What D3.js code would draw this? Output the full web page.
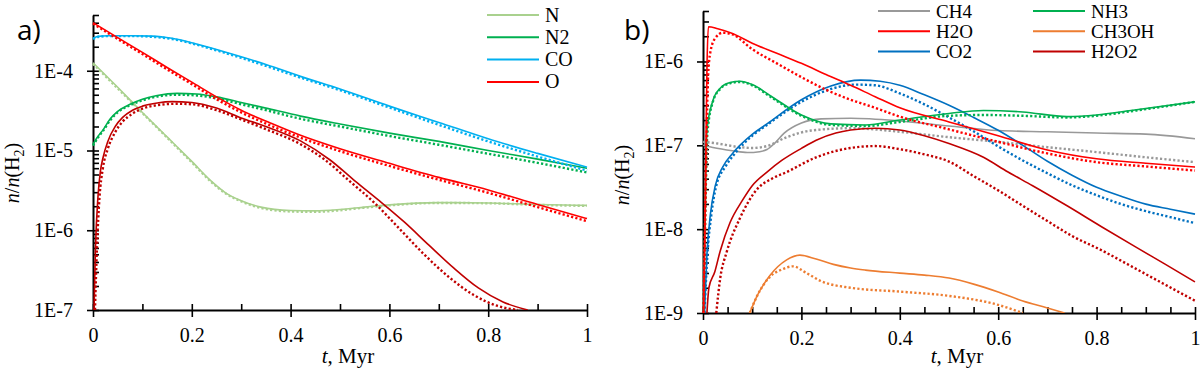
<!DOCTYPE html>
<html>
<head>
<meta charset="utf-8">
<script src="https://cdn.jsdelivr.net/npm/d3@7"></script>
<style>
body { margin: 0; background: #fff; }
svg text { font-family: "Liberation Serif", "Times New Roman", serif; fill: #000; }
</style>
</head>
<body>
<svg id="chart" width="1200" height="370"></svg>
<script>
// ---- data: [t (Myr), n/n(H2)] ----
// panel a
var aN = [[0,1.26e-4],[0.05,6.2e-5],[0.1,3.0e-5],[0.15,1.48e-5],[0.2,7.3e-6],[0.24,4.1e-6],[0.27,2.9e-6],[0.3,2.35e-6],[0.34,1.95e-6],[0.4,1.77e-6],[0.45,1.75e-6],[0.5,1.82e-6],[0.55,1.95e-6],[0.6,2.08e-6],[0.7,2.22e-6],[0.8,2.2e-6],[0.9,2.1e-6],[1,2.05e-6]];
var aN_dot = [[0,1.22e-4],[0.05,6.0e-5],[0.1,2.95e-5],[0.15,1.45e-5],[0.2,7.1e-6],[0.24,4.0e-6],[0.27,2.85e-6],[0.3,2.3e-6],[0.34,1.9e-6],[0.4,1.72e-6],[0.45,1.7e-6],[0.5,1.78e-6],[0.55,1.92e-6],[0.6,2.05e-6],[0.7,2.2e-6],[0.8,2.18e-6],[0.9,2.08e-6],[1,2.02e-6]];
var aN2 = [[0,1.2e-5],[0.01,1.5e-5],[0.02,1.8e-5],[0.035,2.5e-5],[0.05,3.1e-5],[0.075,3.8e-5],[0.1,4.4e-5],[0.13,4.9e-5],[0.17,5.2e-5],[0.21,5.1e-5],[0.25,4.7e-5],[0.3,4.0e-5],[0.35,3.4e-5],[0.42,2.7e-5],[0.5,2.15e-5],[0.6,1.65e-5],[0.7,1.3e-5],[0.8,1.0e-5],[0.9,7.8e-6],[1,6.0e-6]];
var aN2_dot = [[0,1.15e-5],[0.01,1.45e-5],[0.02,1.75e-5],[0.035,2.4e-5],[0.05,3.0e-5],[0.075,3.7e-5],[0.1,4.25e-5],[0.13,4.75e-5],[0.17,5.0e-5],[0.21,4.9e-5],[0.25,4.5e-5],[0.3,3.8e-5],[0.35,3.2e-5],[0.42,2.5e-5],[0.5,2.0e-5],[0.6,1.52e-5],[0.7,1.18e-5],[0.8,9.1e-6],[0.9,7.0e-6],[1,5.3e-6]];
var aCO = [[0,2.55e-4],[0.01,2.7e-4],[0.03,2.75e-4],[0.08,2.75e-4],[0.12,2.72e-4],[0.16,2.55e-4],[0.2,2.25e-4],[0.25,1.85e-4],[0.3,1.5e-4],[0.35,1.2e-4],[0.42,8.5e-5],[0.5,5.9e-5],[0.6,3.6e-5],[0.7,2.25e-5],[0.8,1.4e-5],[0.9,9.2e-6],[1,6.2e-6]];
var aCO_dot = [[0,2.5e-4],[0.01,2.65e-4],[0.03,2.72e-4],[0.08,2.72e-4],[0.12,2.66e-4],[0.16,2.5e-4],[0.2,2.2e-4],[0.25,1.8e-4],[0.3,1.45e-4],[0.35,1.15e-4],[0.42,8.2e-5],[0.5,5.7e-5],[0.6,3.45e-5],[0.7,2.1e-5],[0.8,1.3e-5],[0.9,8.4e-6],[1,5.6e-6]];
var aO = [[0,4.0e-4],[0.05,2.6e-4],[0.1,1.7e-4],[0.15,1.1e-4],[0.2,7.2e-5],[0.25,4.7e-5],[0.3,3.2e-5],[0.36,2.2e-5],[0.42,1.55e-5],[0.5,1.05e-5],[0.6,6.9e-6],[0.7,4.6e-6],[0.8,3.2e-6],[0.9,2.1e-6],[1,1.4e-6]];
var aO_dot = [[0,3.9e-4],[0.05,2.5e-4],[0.1,1.62e-4],[0.15,1.04e-4],[0.2,6.8e-5],[0.25,4.4e-5],[0.3,3.0e-5],[0.36,2.05e-5],[0.42,1.45e-5],[0.5,9.8e-6],[0.6,6.4e-6],[0.7,4.3e-6],[0.8,2.95e-6],[0.9,1.95e-6],[1,1.3e-6]];
// dark red curve, not in the legend
var aO2 = [[0.002,1e-7],[0.005,6e-7],[0.01,2.6e-6],[0.015,5.5e-6],[0.02,8e-6],[0.03,1.3e-5],[0.045,2.0e-5],[0.06,2.6e-5],[0.08,3.2e-5],[0.1,3.6e-5],[0.13,3.95e-5],[0.16,4.1e-5],[0.2,4.0e-5],[0.25,3.4e-5],[0.3,2.56e-5],[0.35,2.0e-5],[0.42,1.32e-5],[0.48,7.6e-6],[0.53,4.16e-6],[0.58,2.33e-6],[0.63,1.27e-6],[0.68,6.5e-7],[0.73,3.37e-7],[0.78,1.89e-7],[0.83,1.26e-7],[0.88,1e-7]];
var aO2_dot = [[0.004,1e-7],[0.008,6e-7],[0.013,2.5e-6],[0.02,6e-6],[0.03,1.05e-5],[0.045,1.7e-5],[0.06,2.3e-5],[0.08,2.9e-5],[0.1,3.35e-5],[0.13,3.7e-5],[0.17,3.85e-5],[0.2,3.8e-5],[0.25,3.2e-5],[0.3,2.45e-5],[0.35,1.85e-5],[0.42,1.2e-5],[0.47,7.6e-6],[0.52,4.1e-6],[0.57,2.2e-6],[0.62,1.05e-6],[0.67,5.0e-7],[0.72,2.6e-7],[0.77,1.55e-7],[0.82,1.12e-7],[0.86,1e-7]];

// panel b
var bCH4 = [[0,1.0e-7],[0.02,9.4e-8],[0.06,8.6e-8],[0.09,8.2e-8],[0.115,8.4e-8],[0.13,8.9e-8],[0.145,1.05e-7],[0.165,1.4e-7],[0.2,1.85e-7],[0.24,2.07e-7],[0.3,2.1e-7],[0.4,1.95e-7],[0.5,1.7e-7],[0.6,1.5e-7],[0.7,1.45e-7],[0.8,1.4e-7],[0.9,1.36e-7],[1,1.2e-7]];
var bCH4_dot = [[0,1.1e-7],[0.03,1.05e-7],[0.07,9.6e-8],[0.1,9.3e-8],[0.13,9.8e-8],[0.17,1.25e-7],[0.22,1.5e-7],[0.3,1.6e-7],[0.4,1.45e-7],[0.5,1.25e-7],[0.6,1.1e-7],[0.7,9.5e-8],[0.8,8.3e-8],[0.9,7.2e-8],[1,6.3e-8]];
var bH2O = [[0.001,1e-9],[0.004,1e-8],[0.006,1e-7],[0.008,8e-7],[0.011,2.6e-6],[0.03,2.45e-6],[0.06,2.15e-6],[0.1,1.65e-6],[0.15,1.25e-6],[0.2,9.5e-7],[0.25,7.0e-7],[0.3,5.2e-7],[0.35,3.8e-7],[0.4,2.8e-7],[0.5,1.9e-7],[0.6,1.3e-7],[0.7,8.8e-8],[0.8,6.9e-8],[0.9,6.1e-8],[1,5.5e-8]];
var bH2O_dot = [[0.001,1e-9],[0.004,1e-8],[0.007,1e-7],[0.01,6e-7],[0.015,1.3e-6],[0.025,1.9e-6],[0.04,2.2e-6],[0.06,2.1e-6],[0.1,1.4e-6],[0.15,9.5e-7],[0.2,6.5e-7],[0.25,4.6e-7],[0.3,3.5e-7],[0.35,2.8e-7],[0.4,2.2e-7],[0.5,1.55e-7],[0.6,1.1e-7],[0.7,8.0e-8],[0.8,6.3e-8],[0.9,5.6e-8],[1,5.0e-8]];
var bCO2 = [[0.003,1e-9],[0.008,5e-9],[0.015,1.5e-8],[0.025,3.3e-8],[0.04,5.5e-8],[0.06,8.0e-8],[0.1,1.35e-7],[0.13,1.8e-7],[0.2,3.5e-7],[0.26,5.1e-7],[0.32,6.0e-7],[0.36,5.8e-7],[0.4,5.2e-7],[0.45,4.0e-7],[0.5,3.0e-7],[0.55,2.15e-7],[0.6,1.51e-7],[0.65,1.0e-7],[0.7,6.45e-8],[0.75,4.4e-8],[0.8,3.16e-8],[0.85,2.47e-8],[0.9,1.99e-8],[0.95,1.73e-8],[1,1.51e-8]];
var bCO2_dot = [[0.003,1e-9],[0.009,5e-9],[0.017,1.5e-8],[0.027,3.3e-8],[0.045,5.5e-8],[0.065,8e-8],[0.1,1.3e-7],[0.13,1.75e-7],[0.2,3.3e-7],[0.26,4.7e-7],[0.31,5.3e-7],[0.35,5.2e-7],[0.4,4.16e-7],[0.45,3.08e-7],[0.5,2.15e-7],[0.55,1.47e-7],[0.6,9.7e-8],[0.65,6.6e-8],[0.7,4.64e-8],[0.75,3.34e-8],[0.8,2.54e-8],[0.85,1.99e-8],[0.9,1.64e-8],[0.95,1.39e-8],[1,1.18e-8]];
var bNH3 = [[0.001,1e-9],[0.004,1e-8],[0.008,1.5e-7],[0.02,3.4e-7],[0.035,4.8e-7],[0.055,5.6e-7],[0.075,5.8e-7],[0.1,5.3e-7],[0.14,3.8e-7],[0.2,2.3e-7],[0.26,1.8e-7],[0.33,1.75e-7],[0.4,2.0e-7],[0.5,2.4e-7],[0.57,2.6e-7],[0.65,2.5e-7],[0.74,2.2e-7],[0.8,2.3e-7],[0.87,2.6e-7],[1,3.3e-7]];
var bNH3_dot = [[0.001,1e-9],[0.004,1e-8],[0.009,1.4e-7],[0.02,3.3e-7],[0.035,4.7e-7],[0.055,5.5e-7],[0.075,5.7e-7],[0.1,5.2e-7],[0.14,3.7e-7],[0.2,2.25e-7],[0.26,1.75e-7],[0.33,1.7e-7],[0.4,1.9e-7],[0.5,2.25e-7],[0.57,2.3e-7],[0.65,2.25e-7],[0.74,2.15e-7],[0.8,2.25e-7],[0.87,2.55e-7],[1,3.3e-7]];
var bCH3OH = [[0.095,1e-9],[0.11,1.6e-9],[0.136,2.8e-9],[0.17,4.3e-9],[0.197,4.9e-9],[0.23,4.4e-9],[0.265,3.8e-9],[0.3,3.44e-9],[0.33,3.25e-9],[0.4,2.99e-9],[0.45,2.83e-9],[0.5,2.61e-9],[0.55,2.21e-9],[0.6,1.78e-9],[0.65,1.39e-9],[0.7,1.15e-9],[0.735,1e-9]];
var bCH3OH_dot = [[0.095,1e-9],[0.11,1.6e-9],[0.136,2.7e-9],[0.16,3.3e-9],[0.183,3.6e-9],[0.21,3.0e-9],[0.24,2.4e-9],[0.3,2.0e-9],[0.4,1.8e-9],[0.5,1.6e-9],[0.6,1.25e-9],[0.65,1e-9]];
var bH2O2 = [[0.008,1e-9],[0.012,2e-9],[0.024,3.1e-9],[0.035,5.5e-9],[0.055,1.2e-8],[0.08,2.2e-8],[0.1,3.3e-8],[0.13,4.8e-8],[0.16,6.6e-8],[0.2,9.2e-8],[0.23,1.15e-7],[0.27,1.4e-7],[0.3,1.52e-7],[0.35,1.6e-7],[0.4,1.52e-7],[0.45,1.3e-7],[0.5,1.05e-7],[0.57,7.2e-8],[0.62,4.8e-8],[0.67,3.3e-8],[0.74,1.9e-8],[0.81,1.07e-8],[0.88,6.1e-9],[0.94,3.8e-9],[1,2.35e-9]];
var bH2O2_dot = [[0.027,1e-9],[0.035,2.6e-9],[0.048,5.3e-9],[0.075,1.35e-8],[0.11,3.0e-8],[0.14,4.0e-8],[0.17,4.8e-8],[0.23,7.2e-8],[0.3,9.3e-8],[0.35,9.8e-8],[0.4,9.0e-8],[0.45,7.8e-8],[0.5,6.4e-8],[0.55,4.3e-8],[0.6,2.9e-8],[0.65,1.9e-8],[0.7,1.25e-8],[0.75,8.3e-9],[0.81,5.6e-9],[0.86,3.9e-9],[0.91,2.7e-9],[1,1.4e-9]];

// legend names and ticks
var legendA = ["N", "N2", "CO", "O"];
var legendB = ["CH4", "H2O", "CO2", "NH3", "CH3OH", "H2O2"];
var xTicks = [0, 0.2, 0.4, 0.6, 0.8, 1];
var yTicksA = [1e-7, 1e-6, 1e-5, 1e-4];
var yTicksB = [1e-9, 1e-8, 1e-7, 1e-6];

var colors = {
    "N": "#a9d18e", "N2": "#00b050", "CO": "#00b0f0", "O": "#ff0000", "O2": "#c00000",
    "CH4": "#999999", "H2O": "#ff0000", "CO2": "#0070c0", "NH3": "#00b050",
    "CH3OH": "#ed7d31", "H2O2": "#c00000"
};

var svg = d3.select("#chart");

function drawPanel(p) {
    var x = d3.scaleLinear().domain([0, 1]).range([p.left, p.right]);
    var y = d3.scaleLog().domain(p.yDomain).range([p.bottom, p.top]);

    // axes first, curves go over them
    var ax = svg.append("g");
    var fmtY = function (d) { return "1E" + Math.round(Math.log10(d)); };

    ax.append("g").attr("transform", "translate(" + p.left + ",0)")
        .call(d3.axisLeft(y).tickValues(y.ticks().filter(v => v <= p.yDomain[1] * 1.001))
            .tickSize(-6).tickFormat(""))
        .call(g => g.select(".domain").remove());
    ax.append("g").attr("transform", "translate(" + p.left + ",0)")
        .call(d3.axisLeft(y).tickValues(p.yMajor).tickSize(6).tickSizeOuter(0)
            .tickPadding(14).tickFormat(fmtY));

    ax.append("g").attr("transform", "translate(0," + p.bottom + ")")
        .call(d3.axisBottom(x).tickValues(d3.range(0, 1.0001, p.xMinor))
            .tickSize(-6).tickFormat(""))
        .call(g => g.select(".domain").remove());
    ax.append("g").attr("transform", "translate(0," + p.bottom + ")")
        .call(d3.axisBottom(x).tickValues(xTicks).tickSize(7).tickSizeOuter(0)
            .tickPadding(11).tickFormat(d3.format("~g")));

    ax.selectAll(".domain").attr("stroke", "#000").attr("stroke-width", 2);
    ax.selectAll(".tick line").attr("stroke", "#000").attr("stroke-width", 1.6);
    ax.selectAll(".tick text").style("font-size", "20px")
        .style("font-family", "'Liberation Serif', serif").attr("fill", "#000");

    // curves
    var clipId = "clip-" + p.name;
    svg.append("clipPath").attr("id", clipId).append("rect")
        .attr("x", p.left - 2).attr("y", p.top - 3)
        .attr("width", p.right - p.left + 4).attr("height", p.bottom - p.top + 3);

    var line = d3.line()
        .x(d => x(d[0]))
        .y(d => y(d[1]))
        .curve(d3.curveMonotoneX);

    var curves = svg.append("g").attr("clip-path", "url(#" + clipId + ")");
    p.series.forEach(function (s) {
        curves.append("path").attr("d", line(s.dotted))
            .attr("fill", "none").attr("stroke", colors[s.name])
            .attr("stroke-width", 2.4).attr("stroke-dasharray", "2.2 2.2");
        curves.append("path").attr("d", line(s.solid))
            .attr("fill", "none").attr("stroke", colors[s.name])
            .attr("stroke-width", 1.6);
    });

    // axis titles
    var xt = svg.append("text")
        .attr("x", (p.left + p.right) / 2 + 8).attr("y", 363)
        .attr("text-anchor", "middle").style("font-size", "21px");
    xt.append("tspan").style("font-style", "italic").text("t");
    xt.append("tspan").text(", Myr");

    var yt = svg.append("text")
        .attr("transform", "translate(" + (p.left - 74) + "," + p.yTitleY + ") rotate(-90)")
        .attr("text-anchor", "middle").style("font-size", "20px");
    yt.append("tspan").style("font-style", "italic").text("n");
    yt.append("tspan").text("/");
    yt.append("tspan").style("font-style", "italic").text("n");
    yt.append("tspan").text("(H");
    yt.append("tspan").attr("dy", 5).style("font-size", "14px").text("2");
    yt.append("tspan").attr("dy", -5).text(")");

    // panel letter
    svg.append("text").attr("x", p.labelX).attr("y", 40)
        .style("font-family", "'Open Sans', sans-serif").style("font-size", "28px")
        .text(p.label);

    // legend
    p.legend.forEach(function (e) {
        svg.append("line")
            .attr("x1", e.x).attr("x2", e.x + 52).attr("y1", e.y).attr("y2", e.y)
            .attr("stroke", colors[e.name]).attr("stroke-width", 2);
        svg.append("text").attr("x", e.x + 58).attr("y", e.y + 6.5)
            .style("font-size", p.legendFont).text(e.name);
    });
}

drawPanel({
    name: "a", label: "a)", labelX: 17,
    left: 93, right: 587, top: 15, bottom: 310,
    yDomain: [1e-7, 5e-4], yMajor: yTicksA, xMinor: 0.1, yTitleY: 173,
    series: [
        { name: "N", solid: aN, dotted: aN_dot },
        { name: "N2", solid: aN2, dotted: aN2_dot },
        { name: "CO", solid: aCO, dotted: aCO_dot },
        { name: "O2", solid: aO2, dotted: aO2_dot },
        { name: "O", solid: aO, dotted: aO_dot }
    ],
    legendFont: "20px",
    legend: legendA.map((n, i) => ({ name: n, x: 487, y: 15 + i * 22.3 }))
});

drawPanel({
    name: "b", label: "b)", labelX: 624,
    left: 703, right: 1195, top: 11, bottom: 313,
    yDomain: [1e-9, 4e-6], yMajor: yTicksB, xMinor: 0.05, yTitleY: 175,
    series: [
        { name: "CH4", solid: bCH4, dotted: bCH4_dot },
        { name: "CH3OH", solid: bCH3OH, dotted: bCH3OH_dot },
        { name: "H2O2", solid: bH2O2, dotted: bH2O2_dot },
        { name: "CO2", solid: bCO2, dotted: bCO2_dot },
        { name: "NH3", solid: bNH3, dotted: bNH3_dot },
        { name: "H2O", solid: bH2O, dotted: bH2O_dot }
    ],
    legendFont: "19px",
    legend: legendB.map((n, i) => ({ name: n, x: i < 3 ? 878 : 1033, y: 11 + (i % 3) * 20.3 }))
});
</script>
</body>
</html>
